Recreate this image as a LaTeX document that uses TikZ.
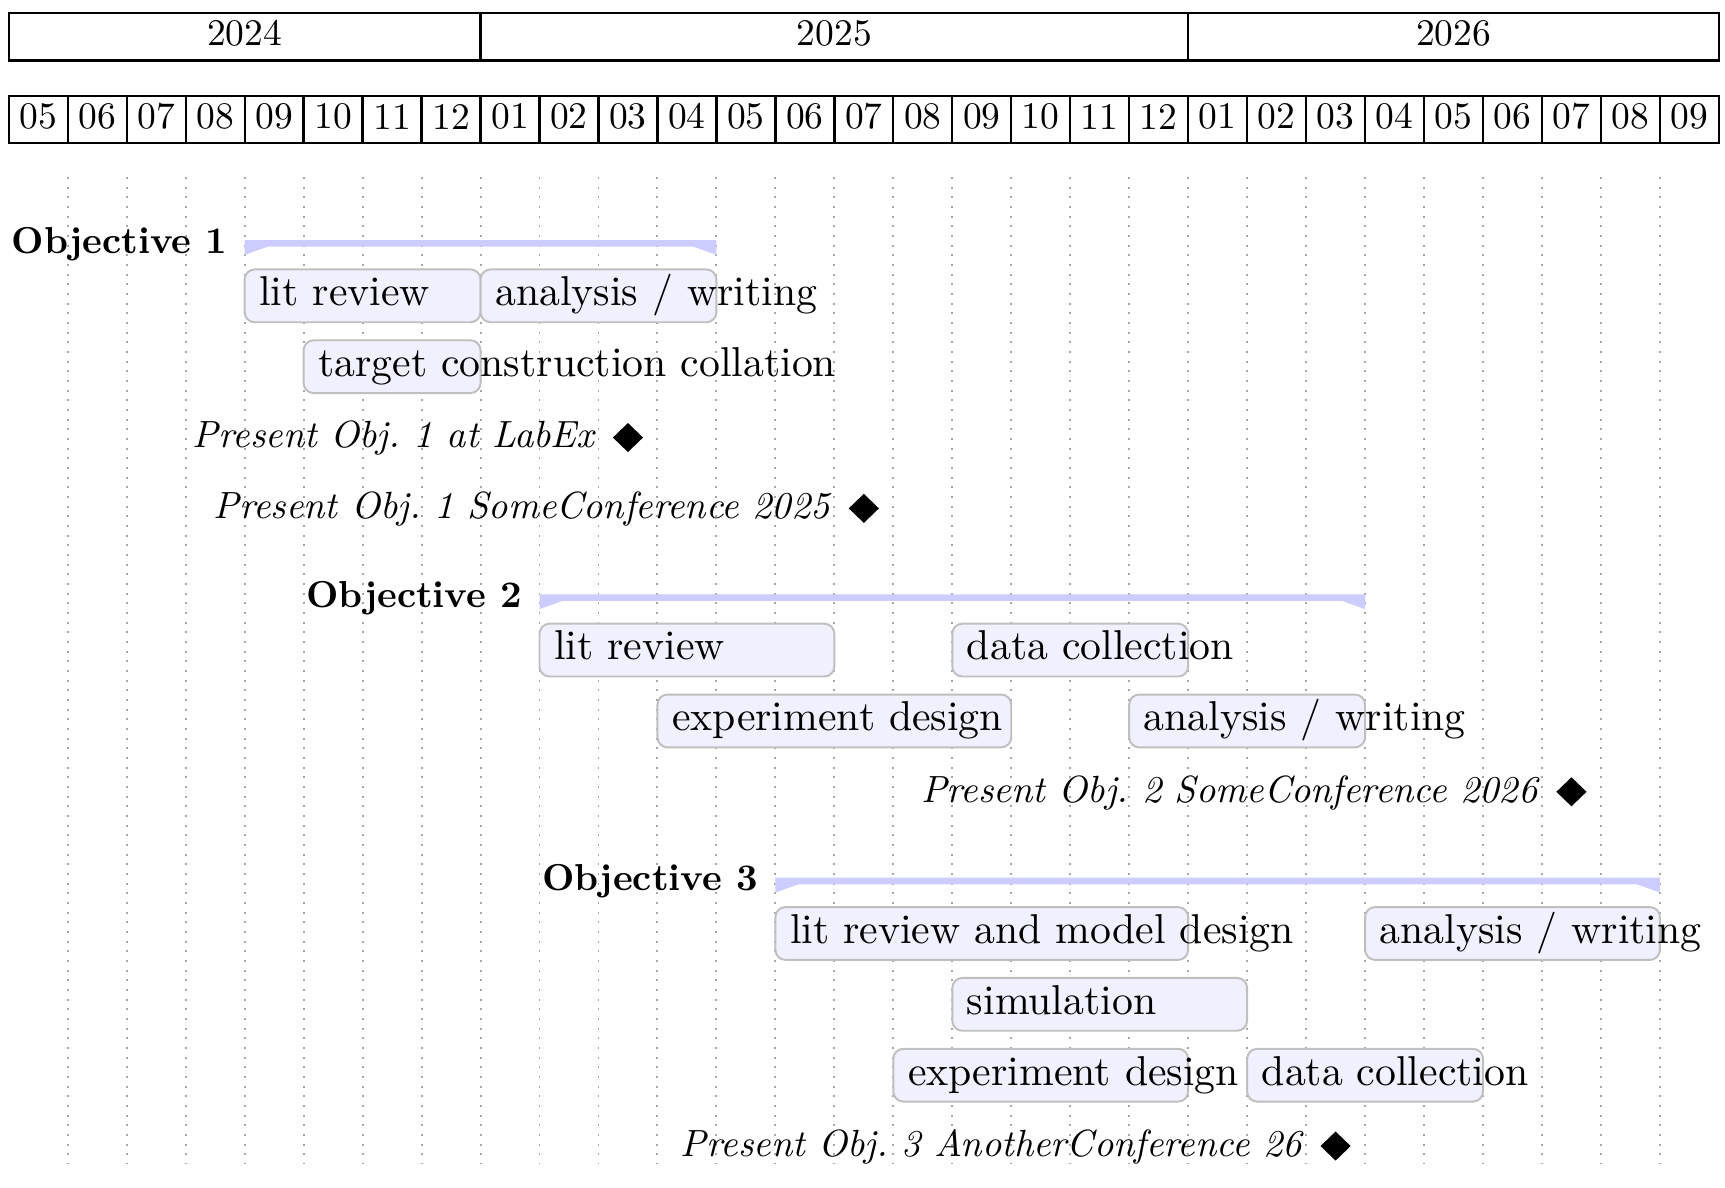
\documentclass[tikz,border=0pt]{standalone}
\usetikzlibrary{shapes.geometric}

\begin{document}
\begin{tikzpicture}[x=5.36mm,y=-0.1mm,
    cell/.style={draw=black,line width=0.6pt},
    headtext/.style={inner sep=0pt,font=\fontsize{9.7}{11}\selectfont},
    gridline/.style={gray!70,dotted,line width=0.5pt},
    groupbar/.style={fill=blue!20},
    taskbar/.style={draw=black!25,fill=blue!6,line width=0.5pt,rounded corners=2.6pt},
    tasklabel/.style={anchor=base west,inner sep=0pt,xshift=3.6pt,font=\fontsize{10.8}{13}\selectfont},
    grouplabel/.style={anchor=base east,inner sep=0pt,xshift=-1.5mm,font=\fontsize{9.7}{12}\selectfont\bfseries},
    mslabel/.style={anchor=base east,inner sep=0pt,xshift=-3mm,font=\fontsize{9.8}{12}\selectfont\itshape},
    msmark/.style={diamond,fill=black,inner sep=0pt,minimum width=2.8mm,minimum height=2.7mm}]
\useasboundingbox (-0.149,0) rectangle (29.104,1079);

% year and month header
\foreach \s/\e/\yr in {0/8/2024,8/20/2025,20/29/2026}{
  \draw[cell] (\s,12) rectangle (\e,55);
  \node[headtext] (y\yr) at ({(\s+\e)/2},30.5) {\yr};
}
\foreach \m [count=\i from 0] in {05,06,07,08,09,10,11,12,01,02,03,04,05,06,07,08,09,10,11,12,01,02,03,04,05,06,07,08,09}{
  \draw[cell] (\i,87) rectangle ++(1,43);
  \node[headtext] (m\i) at (\i+0.5,106) {\m};
}

% vertical grid
\foreach \i in {1,...,28}
  \draw[gridline] (\i,161) -- (\i,1058);

% objectives
\foreach \s/\e/\t/\n in {4/12/218.2/1,9/23/540.2/2,13/28/797.8/3}{
  \fill[groupbar] (\s,\t+13.5) -- (\s,\t) -- (\e,\t) -- (\e,\t+13.5) -- (\e-0.39,\t+6) -- (\s+0.39,\t+6) -- cycle;
  \node[grouplabel] (obj\n) at (\s,\t+12) {Objective \n};
}

% tasks
\foreach \s/\e/\yc/\txt/\nm in {
    4/8/268.9/{lit review}/lit1,
    8/12/268.9/{analysis / writing}/write1,
    5/8/333.3/{target construction collation}/target1,
    9/14/590.9/{lit review}/lit2,
    16/20/590.9/{data collection}/data2,
    11/17/655.3/{experiment design}/exp2,
    19/23/655.3/{analysis / writing}/write2,
    13/20/848.5/{lit review and model design}/lit3,
    23/28/848.5/{analysis / writing}/write3,
    16/21/912.9/{simulation}/sim3,
    15/20/977.3/{experiment design}/exp3,
    21/25/977.3/{data collection}/data3}{
  \draw[taskbar] (\s,\yc-24) rectangle (\e,\yc+24);
  \node[tasklabel] (\nm) at (\s,\yc+9) {\txt};
}

% milestones
\foreach \x/\yc/\txt/\nm in {
    10.5/397.7/{Present Obj.\ 1 at LabEx}/labex1,
    14.5/462.1/{Present Obj.\ 1 SomeConference 2025}/conf1,
    26.5/719.7/{Present Obj.\ 2 SomeConference 2026}/conf2,
    22.5/1041.7/{Present Obj.\ 3 AnotherConference 26}/conf3}{
  \node[msmark] (\nm) at (\x,\yc) {};
  \node[mslabel] (\nm-text) at (\x,\yc+9.5) {\txt};
}
\end{tikzpicture}
\end{document}
